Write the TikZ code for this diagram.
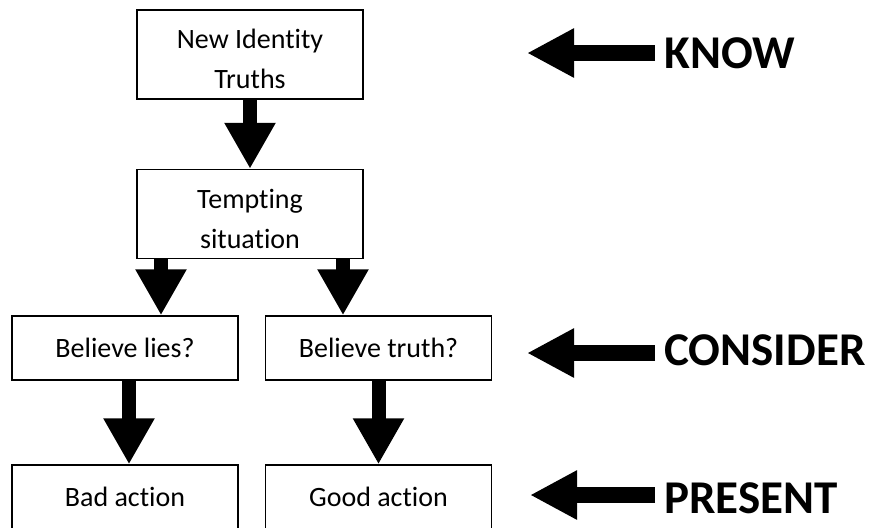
\documentclass[tikz,border=0pt]{standalone}
\usepackage{fontspec}
\setmainfont[Ligatures=NoCommon]{Carlito}
\usetikzlibrary{arrows.meta}

\begin{document}
\begin{tikzpicture}[x=0.5pt,y=-0.5pt,
	stepbox/.style={draw,line width=0.7pt,inner sep=0pt,align=center,font=\fontsize{14}{20}\selectfont},
	tallbox/.style={stepbox,minimum width=113pt,minimum height=44.5pt,text height=34pt,text depth=0pt},
	choicebox/.style={stepbox,minimum width=113pt,minimum height=32pt,text height=9pt,text depth=0pt},
	downarrow/.style={line width=7pt,-{Triangle[width=24pt,length=23pt]}},
	sidearrow/.style={line width=8pt,-{Triangle[width=23pt,length=23.5pt]}},
	stage/.style={inner sep=0pt,anchor=west,font=\bfseries\fontsize{23.5}{23.5}\selectfont}]
	\useasboundingbox (0,0) rectangle (871,527);

	%BOXES
	\node[tallbox] (truths) at (250,54.5) {New Identity\\Truths};
	\node[tallbox] (tempt) at (250,214) {Tempting\\situation};
	\node[choicebox] (lies) at (125,348) {Believe lies?};
	\node[choicebox] (truth) at (378.5,348) {Believe truth?};
	\node[choicebox] (bad) at (125,497) {Bad action};
	\node[choicebox] (good) at (378.5,497) {Good action};

	%DOWN ARROWS
	\draw[downarrow] (truths) -- (tempt);
	\draw[downarrow] ([xshift=18pt]lies.north |- tempt.south) -- ([xshift=18pt]lies.north);
	\draw[downarrow] ([xshift=-17.75pt]truth.north |- tempt.south) -- ([xshift=-17.75pt]truth.north);
	\draw[downarrow] ([xshift=2pt]lies.south) -- ([xshift=2pt]bad.north);
	\draw[downarrow] (truth) -- (good);

	%STAGES
	\node[stage] (know) at (664,53) {KNOW};
	\node[stage] (consider) at (664,350) {CONSIDER};
	\node[stage] (present) at (664,498) {PRESENT};
	\coordinate (knowtip) at (527,53);
	\coordinate (considertip) at (527,353);
	\coordinate (presenttip) at (530,495);
	\foreach \s in {know,consider,present}{
		\draw[sidearrow] ([xshift=-4.5pt]\s tip -| \s.west) -- (\s tip); %arrows
	}
\end{tikzpicture}
\end{document}
